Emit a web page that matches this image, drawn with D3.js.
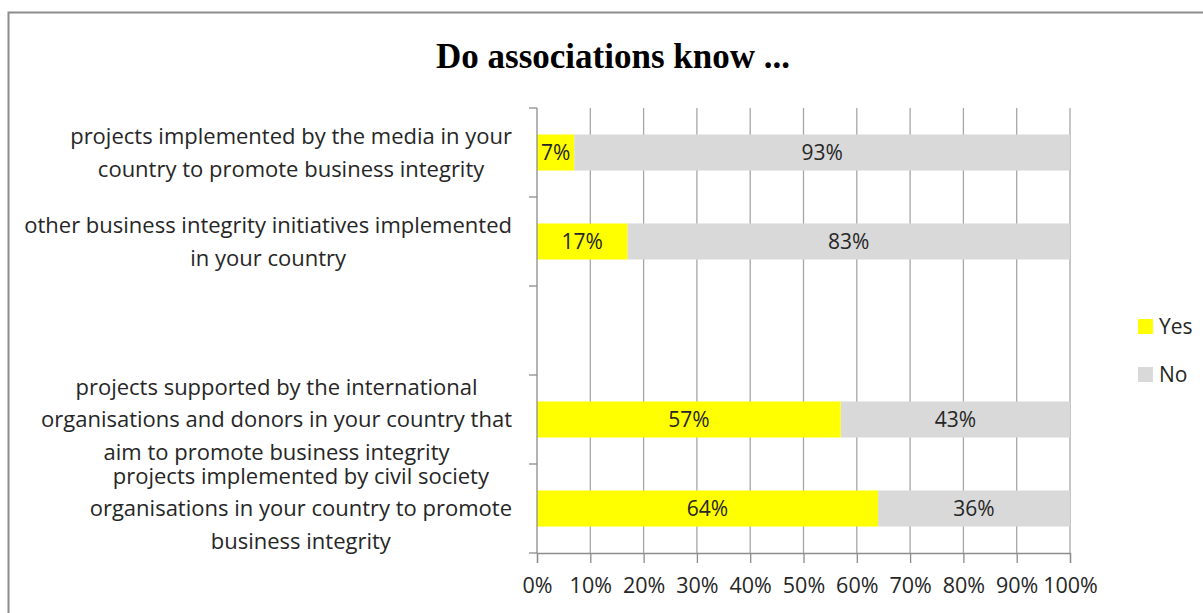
<!DOCTYPE html>
<html>
<head>
<meta charset="utf-8">
<script src="https://cdn.jsdelivr.net/npm/d3@7"></script>
<style>
  html, body { margin: 0; padding: 0; background: #fff; }
  svg { display: block; }
</style>
</head>
<body>
<svg id="chart" width="1203" height="613"></svg>
<script>
// Survey categories (the empty entry is a blank row in the chart)
const categories = [
  ["projects implemented by the media in your", "country to promote business integrity"],
  ["other business integrity initiatives implemented", "in your country"],
  [],
  ["projects supported by the international", "organisations and donors in your country that", "aim to promote business integrity"],
  ["projects implemented by civil society", "organisations in your country to promote", "business integrity"]
];
const yesValues = [7, 17, null, 57, 64];
const noValues  = [93, 83, null, 43, 36];
const seriesNames = ["Yes", "No"];
const seriesColors = ["#FFFF00", "#D9D9D9"];
const xTicks = [0, 10, 20, 30, 40, 50, 60, 70, 80, 90, 100];

const svg = d3.select("#chart");
const labelFont = "'Open Sans', Lato, sans-serif";

// Outer frame
svg.append("rect")
  .attr("x", 8.5).attr("y", 12.5)
  .attr("width", 1220).attr("height", 640)
  .attr("fill", "#fff").attr("stroke", "#8c8c8c").attr("stroke-width", 2);

// Title
svg.append("text")
  .attr("x", 613).attr("y", 68)
  .attr("text-anchor", "middle")
  .attr("font-family", "'Liberation Serif', 'Times New Roman', serif")
  .attr("font-weight", "bold")
  .attr("font-size", 35)
  .attr("fill", "#000")
  .text("Do associations know ...");

const plot = { left: 537, right: 1070, top: 108, bottom: 553 };

const x = d3.scaleLinear().domain([0, 100]).range([plot.left, plot.right]);
const y = d3.scaleBand()
  .domain(d3.range(categories.length))
  .range([plot.top, plot.bottom])
  .paddingInner(0.595).paddingOuter(0.2975);

// Vertical gridlines
svg.append("g")
  .selectAll("line")
  .data(xTicks.slice(1))
  .join("line")
  .attr("x1", d => x(d)).attr("x2", d => x(d))
  .attr("y1", plot.top).attr("y2", plot.bottom)
  .attr("stroke", "#a6a6a6").attr("stroke-width", 1.3);

// Stacked bars
const rows = categories.map((c, i) => ({ i, yes: yesValues[i], no: noValues[i] }))
  .filter(r => r.yes != null);

const bandH = y.bandwidth();
rows.forEach(r => {
  const segs = [
    { x0: 0, x1: r.yes, v: r.yes, c: seriesColors[0] },
    { x0: r.yes, x1: r.yes + r.no, v: r.no, c: seriesColors[1] }
  ];
  segs.forEach(s => {
    svg.append("rect")
      .attr("x", x(s.x0)).attr("y", y(r.i))
      .attr("width", x(s.x1) - x(s.x0)).attr("height", bandH)
      .attr("fill", s.c);
    svg.append("text")
      .attr("x", (x(s.x0) + x(s.x1)) / 2)
      .attr("y", y(r.i) + bandH / 2)
      .attr("dy", "0.36em")
      .attr("text-anchor", "middle")
      .attr("font-family", labelFont)
      .attr("font-size", 21)
      .attr("fill", "#262626")
      .text(s.v + "%");
  });
});

// Category axis (band boundaries as ticks)
const axisColor = "#8c8c8c";
svg.append("line")
  .attr("x1", plot.left).attr("x2", plot.left)
  .attr("y1", plot.top).attr("y2", plot.bottom)
  .attr("stroke", axisColor).attr("stroke-width", 1.3);
const step = y.step();
svg.append("g")
  .selectAll("line")
  .data(d3.range(categories.length + 1))
  .join("line")
  .attr("x1", plot.left - 8).attr("x2", plot.left)
  .attr("y1", d => plot.top + d * step).attr("y2", d => plot.top + d * step)
  .attr("stroke", axisColor).attr("stroke-width", 1.3);

// Value axis
const xAxis = svg.append("g")
  .attr("transform", `translate(0,${plot.bottom})`)
  .call(d3.axisBottom(x).tickValues(xTicks).tickSize(10).tickPadding(15)
    .tickFormat(d => d + "%"));
xAxis.select(".domain").attr("stroke", axisColor).attr("stroke-width", 1.3);
xAxis.selectAll(".tick line").attr("stroke", axisColor).attr("stroke-width", 1.3);
xAxis.selectAll(".tick text")
  .attr("font-family", labelFont).attr("font-size", 21.5).attr("fill", "#262626");

// Category labels, centred blocks right-aligned to the axis
const lineGap = 32.5;
categories.forEach((lines, i) => {
  if (!lines.length) return;
  const g = svg.append("g");
  const cy = y(i) + bandH / 2;
  const texts = lines.map((t, k) => g.append("text")
    .attr("y", cy + (k - (lines.length - 1) / 2) * lineGap)
    .attr("dy", "0.36em")
    .attr("text-anchor", "middle")
    .attr("font-family", labelFont)
    .attr("font-size", 22)
    .attr("fill", "#262626")
    .text(t));
  const maxW = d3.max(texts, t => t.node().getComputedTextLength());
  texts.forEach(t => t.attr("x", 512 - maxW / 2));
});

// Legend
const legend = svg.append("g");
seriesNames.forEach((name, k) => {
  const ly = 319 + k * 48;
  legend.append("rect")
    .attr("x", 1138).attr("y", ly).attr("width", 15).attr("height", 15)
    .attr("fill", seriesColors[k]);
  legend.append("text")
    .attr("x", 1159).attr("y", ly + 7.5).attr("dy", "0.36em")
    .attr("font-family", labelFont).attr("font-size", 21).attr("fill", "#262626")
    .text(name);
});
</script>
</body>
</html>
